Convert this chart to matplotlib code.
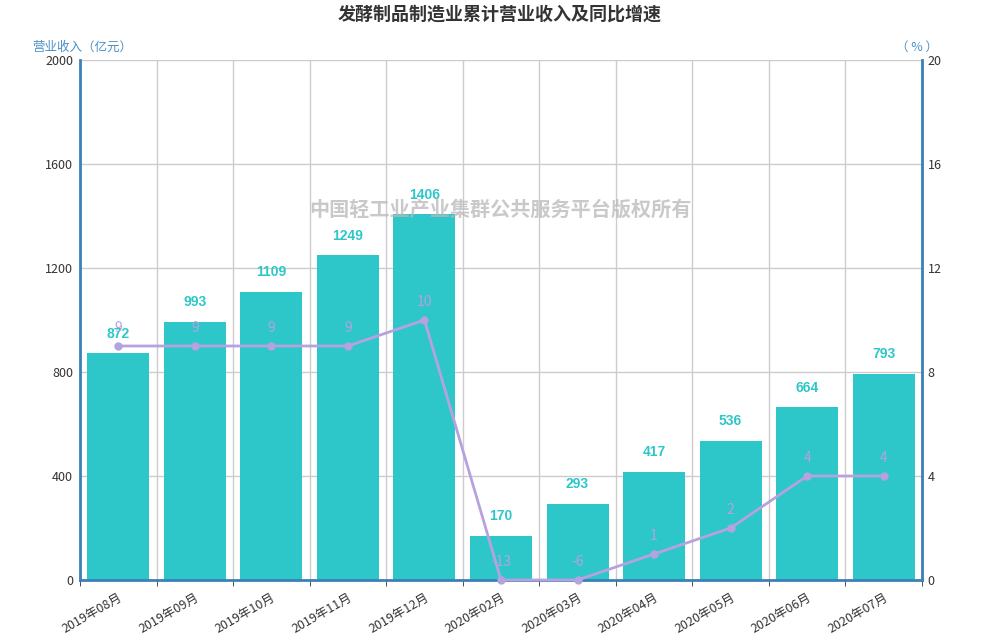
import numpy as np
import matplotlib
matplotlib.use("Agg")
import matplotlib.pyplot as plt

plt.rcParams['font.family'] = ['Noto Sans CJK SC', 'DejaVu Sans']

categories = ["2019年08月", "2019年09月", "2019年10月", "2019年11月", "2019年12月",
              "2020年02月", "2020年03月", "2020年04月", "2020年05月", "2020年06月", "2020年07月"]
revenue = [872, 993, 1109, 1249, 1406, 170, 293, 417, 536, 664, 793]
growth = [9, 9, 9, 9, 10, -13, -6, 1, 2, 4, 4]

left_ticks = [0, 400, 800, 1200, 1600, 2000]
right_ticks = [0, 4, 8, 12, 16, 20]

BAR = "#2ec7c9"
LINE = "#b6a2de"
AXIS = "#3c80b8"
GRID = "#cccccc"

fig = plt.figure(figsize=(10, 6.4), dpi=100)
ax = fig.add_axes([0.08, 1 - 580 / 640, 0.842, 520 / 640])
ax2 = ax.twinx()

x = np.arange(len(categories))
ax.bar(x, revenue, width=0.81, color=BAR, zorder=2)
ax.set_xlim(-0.5, len(categories) - 0.5)
ax.set_ylim(0, 2000)
ax.set_yticks(left_ticks)
ax.set_yticklabels([str(t) for t in left_ticks], fontsize=9, color="#333333")
ax.set_xticks(x)
ax.set_xticklabels(categories, rotation=30, ha="right", rotation_mode="anchor",
                   fontsize=9, color="#333333")
ax.tick_params(axis="x", length=0, pad=8)
ax.set_xticks(np.arange(-0.5, len(categories)), minor=True)
ax.tick_params(axis="x", which="minor", length=4, color="#333333")
ax.tick_params(axis="y", length=0, pad=5)
ax.grid(axis="y", color=GRID, linewidth=1, zorder=0)
ax.grid(axis="x", which="minor", color=GRID, linewidth=1, zorder=0)
ax.set_axisbelow(True)

for s in ["top"]:
    ax.spines[s].set_visible(False)
    ax2.spines[s].set_visible(False)
ax.spines["left"].set_color(AXIS)
ax.spines["left"].set_linewidth(2)
ax.spines["bottom"].set_color(AXIS)
ax.spines["bottom"].set_linewidth(2)
ax2.spines["right"].set_color(AXIS)
ax2.spines["right"].set_linewidth(2)
ax2.spines["left"].set_visible(False)
ax2.spines["bottom"].set_visible(False)

for xi, v in zip(x, revenue):
    ax.annotate(str(v), (xi, v), xytext=(0, 9), textcoords="offset points",
                ha="center", va="bottom", fontsize=10, fontweight="bold",
                color=BAR, family=["Liberation Sans", "DejaVu Sans"], zorder=5)

ax2.set_ylim(0, 20)
ax2.set_yticks(right_ticks)
ax2.set_yticklabels([str(t) for t in right_ticks], fontsize=9, color="#333333")
ax2.tick_params(axis="y", length=0, pad=4)
shown = np.maximum(np.array(growth), right_ticks[0])
ax2.plot(x, shown, color=LINE, linewidth=2, marker="o", markersize=5, zorder=4,
         clip_on=False)
for xi, yv, v in zip(x, shown, growth):
    ax2.annotate(str(v), (xi, yv), xytext=(0, 8), textcoords="offset points",
                 ha="center", va="bottom", fontsize=10, color=LINE, zorder=5)

fig.text(0.5, 1 - 14 / 640, "发酵制品制造业累计营业收入及同比增速", ha="center", va="center",
         fontsize=13, fontweight="bold", color="#333333")
fig.text(0.032, 1 - 47 / 640, "营业收入（亿元）", ha="left", va="center", fontsize=9, color="#4a8fc7")
fig.text(0.938, 1 - 47 / 640, "（ % ）", ha="right", va="center", fontsize=9, color="#4a8fc7")
fig.text(0.5, 1 - 209 / 640, "中国轻工业产业集群公共服务平台版权所有", ha="center", va="center",
         fontsize=14.5, fontweight="bold", color="#b8b8b8", alpha=0.75, zorder=10)

fig.savefig("out.png", dpi=100, facecolor="white")
